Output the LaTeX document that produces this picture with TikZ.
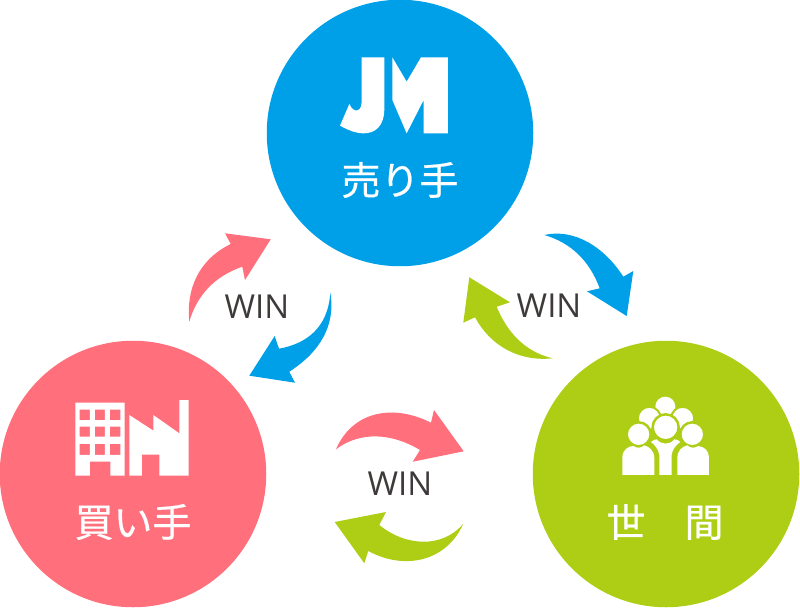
\documentclass[tikz,border=0pt]{standalone}
\usepackage{fontspec}
\setmainfont{Open Sans}
\newfontfamily\jpfont[FakeBold=0.5]{Noto Sans CJK JP}
\definecolor{jmblue}{HTML}{00A0E9}
\definecolor{jmpink}{HTML}{FF6F7C}
\definecolor{jmgreen}{HTML}{AECE16}
\definecolor{wintext}{HTML}{3E3A39}
\tikzset{
  party/.style={circle,inner sep=0pt,minimum size=266.5pt},
  partylabel/.style={text=white,inner sep=0pt,font=\jpfont\fontsize{39}{42}\selectfont},
  winlabel/.style={text=wintext,inner sep=0pt,font=\fontsize{33}{38}\selectfont},
}

\begin{document}
\begin{tikzpicture}[x=1pt,y=-1pt]
   \useasboundingbox (0,0) rectangle (800,610);
   \node[party,fill=jmblue]  (seller) at (400,133) {};
   \node[party,fill=jmpink]  (buyer)  at (133,474) {};
   \node[party,fill=jmgreen] (world)  at (666,474) {};
   \node[partylabel] (sellerlabel) at (400,180) {売り手};
   \node[partylabel] (buyerlabel)  at (133,522) {買い手};
   \node[partylabel] (worldlabel)  at (665,522) {世　間};
   \node[winlabel] (winleft)   at (257,307) {WIN};
   \node[winlabel] (winright)  at (549,306) {WIN};
   \node[winlabel] (winbottom) at (400,484) {WIN};
   % arrows
   \fill[jmpink] (189.3,321.7) .. controls (186,290) and (198,260) .. (230.7,244)
    -- (225,233.3) -- (270.7,239.3) -- (245,280) -- (242.3,266.7)
    .. controls (215,276) and (197,295) .. (189.3,321.7);
   \fill[jmblue] (330.3,292.7) .. controls (336,325) and (320,352) .. (289.3,371.7)
    -- (295,382.7) -- (249.3,375.7) -- (274.7,336) -- (279,348.7)
    .. controls (305,344) and (328,329) .. (330.3,292.7);
   \fill[jmblue] (544.3,235) .. controls (575,228) and (605,248) .. (623.3,276.7)
    -- (633.3,271) -- (626.7,316) -- (587,291.3) -- (599.7,288.3)
    .. controls (590,262) and (572,243) .. (544.3,235);
   \fill[jmgreen] (552.7,358.3) .. controls (518,362) and (490,345) .. (475,317.3)
    -- (463.3,322.7) -- (469.3,277.3) -- (510,302.3) -- (496.7,306.7)
    .. controls (507,332) and (525,352) .. (552.7,358.3);
   \fill[jmpink] (336,449.3) .. controls (352,412) and (392,403) .. (431,422.7)
    -- (434,410) -- (463.7,451.3) -- (412.7,461.7) -- (420,450)
    .. controls (392,433) and (360,431) .. (336,449.3);
   \fill[jmgreen] (463.3,523.7) .. controls (447,561) and (405,571) .. (368.3,551)
    -- (364.3,563.3) -- (334.7,522) -- (386,512) -- (379.3,525)
    .. controls (405,546) and (442,549) .. (463.3,523.7);
   % JM mark
   \begin{scope}[shift={(320,30)},x=0.3333pt,y=-0.3333pt]
     \fill[white] (125,82) -- (193,82) -- (193,235)
      .. controls (193,290) and (165,310) .. (130,310)
      .. controls (105,310) and (80,298) .. (60,287) -- (88,222)
      .. controls (95,238) and (105,243) .. (112,241)
      .. controls (122,238) and (125,228) .. (125,210) -- cycle;
     \fill[white] (217,82) -- (260,155) -- (303,82) -- (384,82) -- (384,310)
      -- (311,310) -- (311,210) -- (260,310) -- (217,210) -- cycle;
   \end{scope}
   % factory mark
   \begin{scope}[shift={(50,380)},x=0.3333pt,y=-0.3333pt]
     \fill[white,even odd rule] (76,68) -- (224,68) -- (224,287) -- (181,287) -- (181,245)
      -- (120,245) -- (120,287) -- (76,287) -- cycle
      (89,89) rectangle (120,120) (135,89) rectangle (165,120) (180,89) rectangle (211,120)
      (89,140) rectangle (120,170) (135,140) rectangle (165,170) (180,140) rectangle (211,170)
      (89,192) rectangle (120,225) (135,192) rectangle (165,225) (180,192) rectangle (211,225);
     \fill[white] (238,287) -- (238,105) -- (310,152) -- (310,105) -- (388,160) -- (388,60)
      -- (416,60) -- (416,287) -- (328,287) -- (328,224) -- (276,224) -- (276,287) -- cycle;
   \end{scope}
   % people mark
   \begin{scope}[shift={(590,380)},x=0.3333pt,y=-0.3333pt]
     \fill[white] (226,80) circle(10pt);
     \filldraw[white,draw=jmgreen,line width=2pt] (178,115) circle(11.5pt);
     \filldraw[white,draw=jmgreen,line width=2pt] (278,115) circle(11.5pt);
     \filldraw[white,draw=jmgreen,line width=2.5pt] (146,163) circle(12pt);
     \filldraw[white,draw=jmgreen,line width=2.5pt] (307,163) circle(12pt);
     \filldraw[white,draw=jmgreen,line width=2.5pt] (227,142) circle(13pt);
     \fill[white] (97,285) -- (97,232) .. controls (97,210) and (115,198) .. (130,198)
      .. controls (140,205) and (155,205) .. (162,196)
      .. controls (178,200) and (193,212) .. (193,235) -- (193,285) -- cycle;
     \fill[white] (208,285) -- (208,225) .. controls (205,208) and (195,195) .. (183,186)
      .. controls (190,180) and (195,178) .. (200,178)
      .. controls (215,195) and (240,195) .. (253,178)
      .. controls (260,178) and (265,180) .. (271,186)
      .. controls (258,195) and (247,208) .. (245,225) -- (245,285) -- cycle;
     \fill[white] (262,285) -- (262,235) .. controls (262,212) and (275,200) .. (292,196)
      .. controls (300,205) and (315,205) .. (325,198)
      .. controls (342,200) and (357,212) .. (357,232) -- (357,285) -- cycle;
   \end{scope}
\end{tikzpicture}
\end{document}
